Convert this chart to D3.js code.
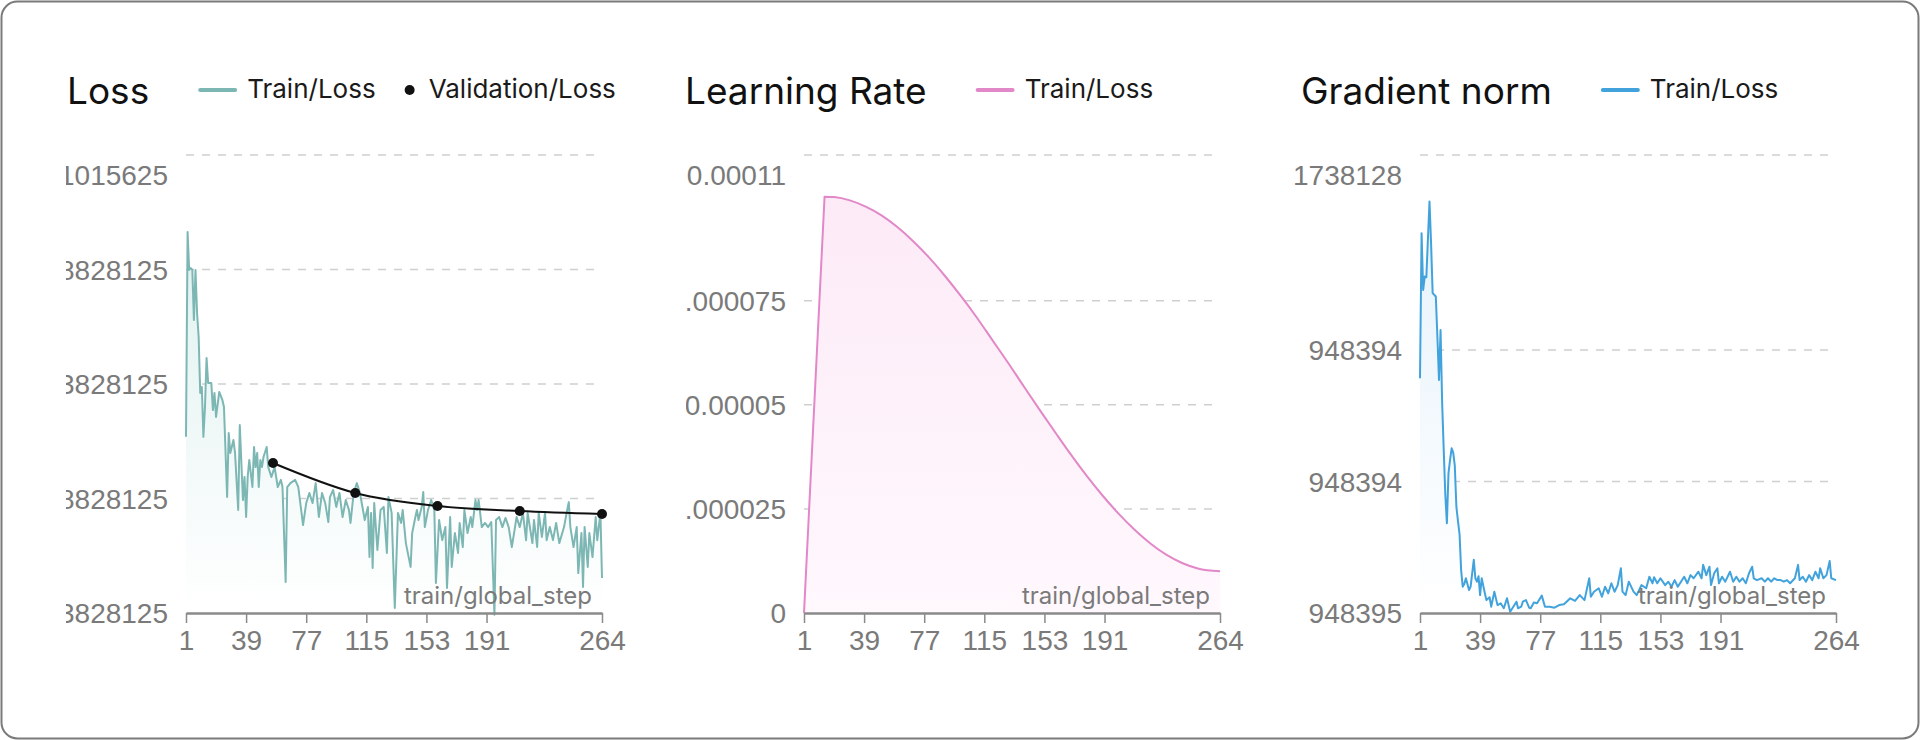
<!DOCTYPE html>
<html><head><meta charset="utf-8">
<script src="https://cdn.jsdelivr.net/npm/d3@7"></script>
<style>
html,body{margin:0;padding:0;background:#fff;}
svg{display:block;font-family:Inter,"Noto Sans",sans-serif;}
</style></head><body>
<svg id="chart" width="1920" height="740"></svg>
<script>
// ---------- data ----------
const xTicks = [1, 39, 77, 115, 153, 191, 264];
const stepMax = 264;

const lossSteps = [1,2,3,4,5,6,7,8,9,10,11,12,13,14,15,17,18,19,20,22,24,25,27,28,29,31,32,34,35,37,38,39,40,41,43,44,45,46,47,48,49,50,52,53,55,57,59,61,62,64,65,67,70,72,75,77,79,81,83,85,87,89,91,92,94,96,98,100,102,104,105,107,109,111,114,116,117,118,119,120,122,124,126,128,129,131,133,135,137,138,140,143,144,146,147,148,150,151,152,154,156,158,159,161,163,165,166,168,169,171,173,174,176,177,179,181,182,184,185,186,188,190,192,194,196,197,199,201,203,205,207,209,210,212,214,216,217,220,221,223,224,226,228,229,231,233,235,237,240,242,243,244,246,248,249,251,252,253,255,256,258,260,261,263,264];
const lossValues = [1.152,2.047,1.881,1.889,1.881,1.662,1.881,1.693,1.588,1.344,1.370,1.152,1.282,1.496,1.387,1.387,1.269,1.344,1.239,1.348,1.313,1.282,0.889,1.169,1.082,1.138,1.082,0.833,1.204,0.876,0.977,0.802,0.977,1.051,0.933,1.108,1.020,1.082,0.933,1.051,1.020,1.064,1.108,1.020,0.977,1.020,0.933,0.964,0.933,0.518,0.933,0.950,0.964,0.933,0.767,0.863,0.907,0.863,0.950,0.802,0.907,0.863,0.780,0.889,0.920,0.846,0.907,0.802,0.876,0.833,0.776,0.907,0.950,0.907,0.789,0.846,0.627,0.820,0.579,0.863,0.658,0.833,0.846,0.645,0.889,0.820,0.405,0.820,0.776,0.833,0.688,0.584,0.732,0.802,0.833,0.789,0.846,0.911,0.758,0.833,0.876,0.833,0.514,0.789,0.701,0.758,0.492,0.802,0.584,0.732,0.645,0.776,0.671,0.833,0.732,0.802,0.758,0.876,0.833,0.876,0.758,0.776,0.758,0.780,0.375,0.789,0.802,0.758,0.798,0.758,0.671,0.758,0.802,0.758,0.820,0.701,0.820,0.688,0.789,0.671,0.820,0.715,0.820,0.701,0.758,0.701,0.776,0.688,0.758,0.833,0.867,0.758,0.671,0.758,0.557,0.732,0.496,0.758,0.584,0.732,0.627,0.802,0.701,0.820,0.536];

const valSteps = [56, 108, 160, 212, 264];
const valValues = [1.038, 0.907, 0.850, 0.828, 0.815];

const lrSteps = [1,14,20,30,40,50,60,70,80,90,100,110,120,130,140,150,160,170,180,190,200,210,220,230,240,250,264];
const lrValues = [0,0.0001,0.0000999,0.0000991,0.0000976,0.0000955,0.0000927,0.0000893,0.0000854,0.0000810,0.0000762,0.0000711,0.0000656,0.0000601,0.0000544,0.0000488,0.0000433,0.0000379,0.0000328,0.0000281,0.0000238,0.0000200,0.0000167,0.0000140,0.0000120,0.0000107,0.0000100];

const gradSteps = [1,2,3,4,5,7,8,9,11,12,13,14,15,16,17,18,19,20,21,22,23,24,25,26,27,28,29,30,32,33,35,36,37,38,39,40,42,43,45,46,48,50,52,54,56,58,60,62,63,65,66,68,70,71,73,75,78,80,83,86,89,92,96,99,102,105,108,109,111,114,116,118,120,122,124,126,128,129,131,133,136,138,141,144,146,148,149,151,153,156,158,160,162,164,166,168,170,172,174,177,179,180,182,184,185,187,189,190,192,194,197,199,201,203,205,207,209,211,212,214,217,219,221,223,225,227,229,231,233,235,238,240,241,243,245,247,249,251,253,254,256,258,260,261,264];
const gradValues = [0.892,1.444,1.228,1.279,1.276,1.564,1.406,1.216,1.203,1.050,0.886,1.076,0.800,0.620,0.450,0.341,0.531,0.582,0.626,0.610,0.560,0.404,0.350,0.300,0.163,0.100,0.110,0.132,0.087,0.100,0.202,0.132,0.119,0.140,0.068,0.132,0.075,0.049,0.060,0.024,0.081,0.030,0.037,0.018,0.056,0.005,0.024,0.043,0.018,0.024,0.043,0.049,0.020,0.018,0.040,0.037,0.066,0.024,0.024,0.020,0.030,0.033,0.056,0.046,0.068,0.049,0.132,0.062,0.081,0.094,0.062,0.100,0.075,0.113,0.081,0.106,0.170,0.081,0.068,0.119,0.081,0.068,0.106,0.094,0.138,0.113,0.136,0.113,0.132,0.106,0.119,0.100,0.125,0.100,0.119,0.138,0.113,0.144,0.132,0.157,0.132,0.183,0.144,0.176,0.106,0.151,0.170,0.113,0.138,0.119,0.157,0.119,0.138,0.119,0.132,0.113,0.151,0.176,0.132,0.125,0.132,0.119,0.132,0.119,0.132,0.125,0.125,0.119,0.125,0.113,0.132,0.183,0.125,0.138,0.119,0.144,0.125,0.157,0.132,0.170,0.132,0.144,0.198,0.132,0.125];

const lossTicks = [0.3828125, 0.8828125, 1.3828125, 1.8828125, 2.3828125];
const lossTickLabels = ["0.3828125", "0.8828125", "1.3828125", "1.8828125", "2.1015625"];
const lrTicks = [0, 0.000025, 0.00005, 0.000075, 0.00011];
const lrTickLabels = ["0", "0.000025", "0.00005", "0.000075", "0.00011"];
const gradTicks = [0, 0.5, 1.0, 1.741];
const gradTickLabels = ["948395", "948394", "948394", "1738128"];

const titles = ["Loss", "Learning Rate", "Gradient norm"];
const xAxisName = "train/global_step";

// ---------- drawing ----------
const svg = d3.select("#chart");
svg.append("rect").attr("x", 1.5).attr("y", 1.5).attr("width", 1917).attr("height", 737)
  .attr("rx", 16).attr("fill", "#fff").attr("stroke", "#7a7a7a").attr("stroke-width", 2);

const defs = svg.append("defs");
const plotTop = 155, plotBottom = 613, plotW = 416;
const tickFs = 28;

const panels = [
  {left: 67, clipLeft: 66, title: titles[0], color: "#7db7b4", fillTop: "#d9efec", fillBot: "#ffffff",
   ticks: lossTicks, labels: lossTickLabels, steps: lossSteps, values: lossValues,
   smooth: false, legend: [{type: "line", text: "Train/Loss"}, {type: "dot", text: "Validation/Loss"}]},
  {left: 685, clipLeft: 686, title: titles[1], color: "#e288c8", fillTop: "#fce9f6", fillBot: "#fff8fd",
   ticks: lrTicks, labels: lrTickLabels, steps: lrSteps, values: lrValues,
   smooth: true, legend: [{type: "line", text: "Train/Loss"}]},
  {left: 1301, clipLeft: 1288, title: titles[2], color: "#42a3dc", fillTop: "#e3f1fb", fillBot: "#ffffff",
   ticks: gradTicks, labels: gradTickLabels, steps: gradSteps, values: gradValues,
   smooth: false, legend: [{type: "line", text: "Train/Loss"}]}
];

panels.forEach((p, pi) => {
  const g = svg.append("g");
  const x0 = p.left + 119;
  const x = d3.scaleLinear().domain([1, stepMax]).range([x0, x0 + plotW]);
  const y = d3.scaleLinear().domain([p.ticks[0], p.ticks[p.ticks.length - 1]]).range([plotBottom, plotTop]);

  // title
  const title = g.append("text").attr("x", p.left).attr("y", 104)
    .attr("font-size", 37).attr("fill", "#111").text(p.title);
  let lx = p.left + title.node().getComputedTextLength() + 51;
  p.legend.forEach(item => {
    if (item.type === "line") {
      g.append("line").attr("x1", lx).attr("x2", lx + 35).attr("y1", 90).attr("y2", 90)
        .attr("stroke", p.color).attr("stroke-width", 4).attr("stroke-linecap", "round");
      lx += 47;
    } else {
      g.append("circle").attr("cx", lx + 4).attr("cy", 90).attr("r", 5).attr("fill", "#111");
      lx += 23;
    }
    const t = g.append("text").attr("x", lx).attr("y", 98).attr("font-size", 26).attr("fill", "#1a1a1a").text(item.text);
    lx += t.node().getComputedTextLength() + 30;
  });

  // gradient fill
  const gid = "fill" + pi;
  const lg = defs.append("linearGradient").attr("id", gid).attr("gradientUnits", "userSpaceOnUse")
    .attr("x1", 0).attr("x2", 0).attr("y1", plotTop).attr("y2", plotBottom);
  lg.append("stop").attr("offset", 0).attr("stop-color", p.fillTop);
  lg.append("stop").attr("offset", 1).attr("stop-color", p.fillBot);

  // clip for y labels
  const cid = "clip" + pi;
  defs.append("clipPath").attr("id", cid).append("rect")
    .attr("x", p.clipLeft).attr("y", 120).attr("width", x0 - p.clipLeft).attr("height", 560);

  // gridlines
  g.append("g").selectAll("line").data(p.ticks.slice(1)).join("line")
    .attr("x1", x0).attr("x2", x0 + plotW)
    .attr("y1", d => y(d)).attr("y2", d => y(d))
    .attr("stroke", "#cfcfcf").attr("stroke-width", 1.5).attr("stroke-dasharray", "8 8");

  // y axis labels
  const yAxis = d3.axisLeft(y).tickValues(p.ticks).tickFormat((d, i) => p.labels[i])
    .tickSize(0).tickPadding(18);
  const yg = g.append("g").attr("clip-path", `url(#${cid})`).append("g")
    .attr("transform", `translate(${x0},0)`).call(yAxis);
  yg.select(".domain").remove();
  yg.selectAll("text").attr("font-size", tickFs).attr("fill", "#7a7a7a").attr("font-family", null)
    .attr("dy", (d, i) => 0.35 * tickFs + (i === p.ticks.length - 1 ? 20 : 0));

  // area + line
  const pts = p.steps.map((s, i) => [s, p.values[i]]);
  let lineD, areaD;
  if (p.smooth) {
    // linear warm-up to the peak, smooth decay afterwards
    const decay = d3.line().x(d => x(d[0])).y(d => y(d[1])).curve(d3.curveMonotoneX)(pts.slice(1));
    const tail = decay.replace(/^M[^A-Za-z]*/, "");
    const head = `M${x(pts[0][0])},${y(pts[0][1])}L${x(pts[1][0])},${y(pts[1][1])}`;
    lineD = head + tail;
    areaD = `M${x(pts[0][0])},${plotBottom}L${x(pts[0][0])},${y(pts[0][1])}L${x(pts[1][0])},${y(pts[1][1])}` + tail +
      `L${x(pts[pts.length - 1][0])},${plotBottom}Z`;
  } else {
    areaD = d3.area().x(d => x(d[0])).y0(plotBottom).y1(d => y(d[1]))(pts);
    lineD = d3.line().x(d => x(d[0])).y(d => y(d[1]))(pts);
  }
  g.append("path").attr("d", areaD).attr("fill", `url(#${gid})`);
  g.append("path").attr("d", lineD).attr("fill", "none")
    .attr("stroke", p.color).attr("stroke-width", 2).attr("stroke-linejoin", "round");

  if (pi === 0) {
    const vpts = valSteps.map((s, i) => [s, valValues[i]]);
    g.append("path").datum(vpts).attr("d", d3.line().x(d => x(d[0])).y(d => y(d[1])).curve(d3.curveMonotoneX))
      .attr("fill", "none").attr("stroke", "#111").attr("stroke-width", 2);
    g.append("g").selectAll("circle").data(vpts).join("circle")
      .attr("cx", d => x(d[0])).attr("cy", d => y(d[1])).attr("r", 5).attr("fill", "#111");
  }

  // axis name
  g.append("text").attr("x", x0 + plotW - 10).attr("y", 604).attr("text-anchor", "end")
    .attr("font-size", 24).attr("fill", "#7a7a7a").text(xAxisName);

  // x axis
  const xAxis = d3.axisBottom(x).tickValues(xTicks).tickSize(10).tickSizeOuter(0).tickFormat(d3.format("d"));
  const xg = g.append("g").attr("transform", `translate(0,${plotBottom})`).call(xAxis);
  xg.select(".domain").attr("stroke", "#8a8a8a").attr("stroke-width", 2.5);
  xg.selectAll(".tick line").attr("stroke", "#8a8a8a").attr("stroke-width", 1.5);
  xg.selectAll("text").attr("font-size", tickFs).attr("fill", "#7a7a7a").attr("font-family", null)
    .attr("y", 27).attr("dy", 0.35 * tickFs);
});
</script>
</body></html>
